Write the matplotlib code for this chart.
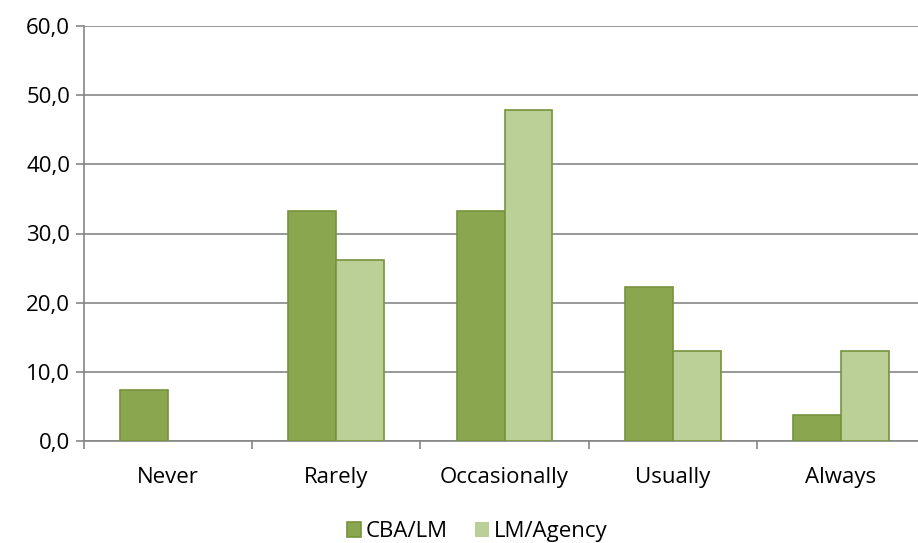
import numpy as np
import matplotlib.pyplot as plt
from matplotlib.ticker import FuncFormatter

# データ
categories = ['Never', 'Rarely', 'Occasionally', 'Usually', 'Always']
cba_lm = [7.4, 33.3, 33.3, 22.2, 3.7]
lm_agency = [0.0, 26.1, 47.8, 13.0, 13.0]

plt.rcParams['font.family'] = ['Open Sans', 'DejaVu Sans']
fs = 16

fig = plt.figure(figsize=(9.18, 5.43), dpi=100)
# 右端は図の外まで伸びている
ax = fig.add_axes([84 / 918, 1 - 441 / 543, 841 / 918, 415 / 543])

x = np.arange(len(categories))
w = 0.285
ax.bar(x - w / 2, cba_lm, w, color='#8aa64f', edgecolor='#76923c',
       linewidth=1.2, label='CBA/LM', zorder=3)
# 0の棒は枠線を描かない
edges = ['#76923c' if v > 0 else 'none' for v in lm_agency]
ax.bar(x + w / 2, lm_agency, w, color='#bad096', edgecolor=edges,
       linewidth=1.2, label='LM/Agency', zorder=3)

ax.set_xlim(-0.5, len(categories) - 0.5)
ax.set_ylim(0, 60)
ax.set_yticks(np.arange(0, 61, 10))
ax.yaxis.set_major_formatter(FuncFormatter(lambda v, p: f'{v:.1f}'.replace('.', ',')))
ax.yaxis.grid(True, color='#868686', linewidth=1.2, zorder=0)

ax.set_xticks(x)
ax.set_xticklabels(categories)
ax.set_xticks(np.arange(-0.5, len(categories), 1), minor=True)
ax.tick_params(axis='x', which='major', length=0, pad=19, labelsize=fs)
ax.tick_params(axis='x', which='minor', length=6, color='#868686', width=1.2)
ax.tick_params(axis='y', length=6, color='#868686', width=1.2, labelsize=fs, pad=4)

for s in ['top', 'right']:
    ax.spines[s].set_visible(False)
for s in ['left', 'bottom']:
    ax.spines[s].set_color('#868686')
    ax.spines[s].set_linewidth(1.2)

fig.legend(loc='lower center', bbox_to_anchor=(477 / 918, -0.035), ncol=2,
           frameon=False, fontsize=fs, handlelength=0.65, handleheight=0.65,
           handletextpad=0.2, columnspacing=1.2)

fig.savefig('out.png', dpi=100)
